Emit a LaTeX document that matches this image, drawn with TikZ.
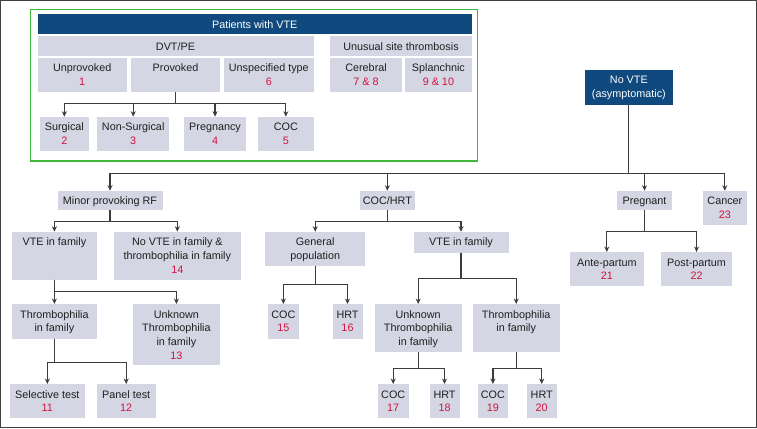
\documentclass[tikz,border=0pt]{standalone}
\usepackage{fontspec}
\setmainfont{Liberation Sans}
\usetikzlibrary{arrows.meta}
\definecolor{vtebg}{HTML}{D4D6E4}
\definecolor{vteblue}{HTML}{0F497D}
\definecolor{vtered}{HTML}{D3123F}
\definecolor{vtegreen}{HTML}{3DB83D}
\definecolor{vteline}{HTML}{3C3C3C}
\def\nr#1{\textcolor{vtered}{#1}}
\def\cell[#1](#2)(#3,#4)(#5,#6)#7{\node[#1, minimum width={#5-#3}, minimum height={#6-#4}, anchor=north west] (#2) at (#3,#4) {}; \node[#1 text] (#2-t) at (#2.north) {\rule{0pt}{14pt}#7};}

\begin{document}
\begin{tikzpicture}[x=1pt, y=-1pt,
		cell/.style={fill=vtebg, inner sep=0pt},
		darkcell/.style={fill=vteblue, inner sep=0pt},
		cell text/.style={anchor=north, inner sep=0pt, align=center, text=black!88, font=\fontsize{10.8}{13.7}\selectfont},
		darkcell text/.style={cell text, text=white},
		link/.style={draw=vteline, line width=1.2pt, -{Stealth[length=5.5pt, width=5pt]}}]
			%%%%% START %%%%%
			
			\useasboundingbox (0, 0) rectangle (757, 428);
			\draw[line width=1.2pt, color=black!75] (0.6, 0.6) rectangle (756.4, 427.4);
			
			% patients with VTE
			\draw[line width=1.3pt, color=vtegreen] (30.3, 9.3) rectangle (477.3, 161);
			\cell[darkcell](vte)(37.3,14)(471.7,34){Patients with VTE}
			\cell[cell](dvtpe)(37.3,36)(313.3,55.7){DVT/PE}
			\cell[cell](usite)(330,36)(471.7,55.7){Unusual site thrombosis}
			\cell[cell](unprov)(37.3,57.7)(126.7,91.7){Unprovoked\\\nr{1}}
			\cell[cell](prov)(130.7,57.7)(220,91.7){Provoked}
			\cell[cell](unspec)(224,57.7)(313.3,91.7){Unspecified type\\\nr{6}}
			\cell[cell](cereb)(330,57.7)(401.7,91.7){Cerebral\\\nr{7 \& 8}}
			\cell[cell](splan)(404.7,57.7)(471.7,91.7){Splanchnic\\\nr{9 \& 10}}
			\cell[cell](surg)(39.3,116.7)(89,150.7){Surgical\\\nr{2}}
			\cell[cell](nonsurg)(97,116.7)(169,150.7){Non-Surgical\\\nr{3}}
			\cell[cell](pregn)(184,116.7)(245.7,150.7){Pregnancy\\\nr{4}}
			\cell[cell](coc)(258,116.7)(313.3,150.7){COC\\\nr{5}}
			
			\draw[link] (prov.south) -- ++(0, 11.6) -| (surg.north);
			\draw[link] (prov.south) -- ++(0, 11.6) -| (nonsurg.north);
			\draw[link] (prov.south) -- ++(0, 11.6) -| (pregn.north);
			\draw[link] (prov.south) -- ++(0, 11.6) -| (coc.north);
			
			% no VTE
			\cell[darkcell](novte)(585,69.3)(672.3,104.3){No VTE\\(asymptomatic)}
			\cell[cell](minor)(57.3,190.7)(162.3,210){Minor provoking RF}
			\cell[cell](cochrt)(359.3,190.7)(415,210){COC/HRT}
			\cell[cell](pregnant)(616.7,190.7)(672,210){Pregnant}
			\cell[cell](cancer)(702.3,190.7)(747,224.3){Cancer\\\nr{23}}
			
			\draw[link] (novte.south) -- ++(0, 68.4) -| (minor.north);
			\draw[link] (novte.south) -- ++(0, 68.4) -| (cochrt.north);
			\draw[link] (novte.south) -- ++(0, 68.4) -| (pregnant.north);
			\draw[link] (novte.south) -- ++(0, 68.4) -| (cancer.north);
			
			% minor provoking RF
			\cell[cell](vtefam)(11.7,231.7)(96.7,279.3){VTE in family}
			\cell[cell](novtefam)(114,231.7)(240.3,279.3){No VTE in family \&\\thrombophilia in family\\\nr{14}}
			\cell[cell](thrfam)(11.7,304)(96.7,338.3){Thrombophilia\\in family}
			\cell[cell](unkfam)(132.7,304)(219.7,364.3){Unknown\\Thrombophilia\\in family\\\nr{13}}
			\cell[cell](selt)(10,384)(84.3,417.7){Selective test\\\nr{11}}
			\cell[cell](panelt)(96.3,384)(155.7,417.7){Panel test\\\nr{12}}
			
			\draw[link] (minor.south) -- ++(0, 10.7) -| (vtefam.north);
			\draw[link] (minor.south) -- ++(0, 10.7) -| (novtefam.north);
			\draw[link] (vtefam.south) -- ++(0, 11.7) -| (thrfam.north);
			\draw[link] (vtefam.south) -- ++(0, 11.7) -| (unkfam.north);
			\draw[link] (thrfam.south) -- ++(0, 23.4) -| (selt.north);
			\draw[link] (thrfam.south) -- ++(0, 23.4) -| (panelt.north);
			
			% COC/HRT
			\cell[cell](genpop)(265,231.7)(365,266){General\\population}
			\cell[cell](vtefamb)(413.3,231.7)(508.3,252.3){VTE in family}
			\cell[cell](coca)(267.3,304)(299,338.3){COC\\\nr{15}}
			\cell[cell](hrta)(332.3,304)(362.3,338.3){HRT\\\nr{16}}
			\cell[cell](unkfamb)(374.3,304)(461.7,352){Unknown\\Thrombophilia\\in family}
			\cell[cell](thrfamb)(472.7,304)(559.3,352){Thrombophilia\\in family}
			\cell[cell](cocb)(377.3,384)(408.7,417.7){COC\\\nr{17}}
			\cell[cell](hrtb)(429.3,384)(459.3,417.7){HRT\\\nr{18}}
			\cell[cell](cocc)(477.7,384)(507.7,417.7){COC\\\nr{19}}
			\cell[cell](hrtc)(526.3,384)(556.7,417.7){HRT\\\nr{20}}
			
			\draw[link] (cochrt.south) -- ++(0, 10.7) -| (genpop.north);
			\draw[link] (cochrt.south) -- ++(0, 10.7) -| (vtefamb.north);
			\draw[link] (genpop.south) -- ++(0, 18.3) -| (coca.north);
			\draw[link] (genpop.south) -- ++(0, 18.3) -| (hrta.north);
			\draw[link] (vtefamb.south) -- ++(0, 25.7) -| (unkfamb.north);
			\draw[link] (vtefamb.south) -- ++(0, 25.7) -| (thrfamb.north);
			\draw[link] (unkfamb.south) -- ++(0, 15.7) -| (cocb.north);
			\draw[link] (unkfamb.south) -- ++(0, 15.7) -| (hrtb.north);
			\draw[link] (thrfamb.south) -- ++(0, 15.7) -| (cocc.north);
			\draw[link] (thrfamb.south) -- ++(0, 15.7) -| (hrtc.north);
			
			% pregnant
			\cell[cell](ante)(570,252)(643.3,285.3){Ante-partum\\\nr{21}}
			\cell[cell](post)(661,252)(731.7,285.3){Post-partum\\\nr{22}}
			
			\draw[link] (pregnant.south) -- ++(0, 20.7) -| (ante.north);
			\draw[link] (pregnant.south) -- ++(0, 20.7) -| (post.north);
			
			%%%%% END %%%%%
\end{tikzpicture}
\end{document}
